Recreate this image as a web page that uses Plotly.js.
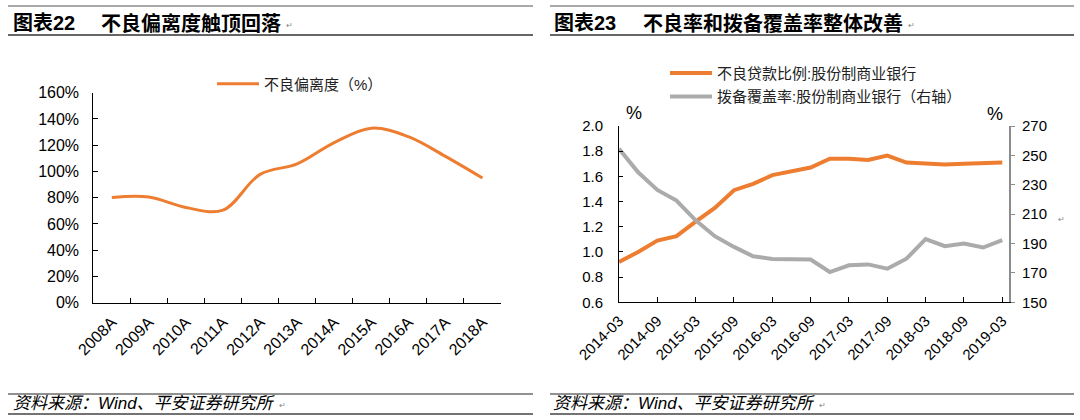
<!DOCTYPE html>
<html>
<head>
<meta charset="utf-8">
<script src="https://cdn.plot.ly/plotly-3.0.1.min.js"></script>
<style>
  html, body { margin: 0; padding: 0; background: #fff; }
  #chart { width: 1080px; height: 420px; }
</style>
</head>
<body>
<div id="chart"></div>
<script>
// ---- Data ----
const years = ['2008A','2009A','2010A','2011A','2012A','2013A','2014A','2015A','2016A','2017A','2018A'];
const deviation = [0.802, 0.805, 0.725, 0.705, 0.978, 1.058, 1.22, 1.33, 1.265, 1.115, 0.95];

const quarters = ['2014-03','2014-06','2014-09','2014-12','2015-03','2015-06','2015-09','2015-12',
                  '2016-03','2016-06','2016-09','2016-12','2017-03','2017-06','2017-09','2017-12',
                  '2018-03','2018-06','2018-09','2018-12','2019-03'];
const nplRatio = [0.92, 1.00, 1.09, 1.125, 1.24, 1.35, 1.49, 1.54, 1.61, 1.64, 1.67, 1.74, 1.74, 1.73,
                  1.765, 1.71, 1.70, 1.695, 1.70, 1.705, 1.71];
const coverage = [254.5, 238.5, 226.5, 219.3, 205.8, 195.0, 187.7, 181.3, 179.5, 179.2, 179.1, 170.6,
                  175.2, 175.8, 172.9, 179.7, 193.0, 188.2, 190.0, 187.3, 192.3];
const quarterTicks = quarters.filter((q, i) => i % 2 === 0);

const name1 = '不良偏离度（%）';
const name2 = '不良贷款比例:股份制商业银行';
const name3 = '拨备覆盖率:股份制商业银行（右轴）';
const title1a = '图表22', title1b = '不良偏离度触顶回落';
const title2a = '图表23', title2b = '不良率和拨备覆盖率整体改善';
const source = '资料来源：Wind、平安证券研究所';

// ---- helpers ----
const W = 1080, H = 420;
const px = x => x / W;
const py = y => 1 - y / H;
const FONT = 'Liberation Sans, Arial, "Noto Sans CJK SC", sans-serif';
const ORANGE = '#ED7D31', GRAY = '#ABABAB';

const traces = [
  { x: years, y: deviation, type: 'scatter', mode: 'lines', name: name1,
    line: { color: ORANGE, width: 3, shape: 'spline', smoothing: 1 },
    xaxis: 'x', yaxis: 'y', legend: 'legend' },
  { x: quarters, y: nplRatio, type: 'scatter', mode: 'lines', name: name2,
    line: { color: ORANGE, width: 4 }, xaxis: 'x2', yaxis: 'y2', legend: 'legend2' },
  { x: quarters, y: coverage, type: 'scatter', mode: 'lines', name: name3,
    line: { color: GRAY, width: 4 }, xaxis: 'x2', yaxis: 'y3', legend: 'legend3' }
];

const ann = [];
function text(t, x, y, size, opts) {
  ann.push(Object.assign({ text: t, x: px(x), y: py(y), xref: 'paper', yref: 'paper',
    xanchor: 'left', yanchor: 'middle', showarrow: false,
    font: { family: FONT, size: size, color: '#000' } }, opts || {}));
}
// titles
text('<b>' + title1a + '</b>', 11, 23, 20);
text('<b>' + title1b + '</b>', 99, 23, 20);
text('<b>' + title2a + '</b>', 552, 23, 20);
text('<b>' + title2b + '</b>', 641, 23, 20);
// return marks
const rm = { font: { family: FONT, size: 8, color: '#888' } };
text('↵', 284, 25, 8, rm);
text('↵', 906, 25, 8, rm);
text('↵', 277, 405, 8, rm);
text('↵', 817, 405, 8, rm);
text('↵', 1056, 219, 8, rm);
// sources
text('<i>' + source + '</i>', 11, 403, 17);
text('<i>' + source + '</i>', 551, 403, 17);
// percent unit labels
text('%', 634, 113, 18, { xanchor: 'center' });
text('%', 995, 114, 18, { xanchor: 'center' });

const shapes = [];
function hline(x0, x1, y, w, c) {
  shapes.push({ type: 'line', xref: 'paper', yref: 'paper', x0: px(x0), x1: px(x1), y0: py(y), y1: py(y),
    line: { color: c, width: w } });
}
hline(8, 533, 6, 1.2, '#555');
hline(8, 533, 35, 2, '#666');
hline(8, 533, 394, 1, '#222');
hline(8, 533, 414, 1.3, '#444');
hline(550, 1074, 6, 1.2, '#555');
hline(550, 1074, 35, 2, '#666');
hline(550, 1074, 394, 1, '#222');
hline(550, 1074, 414, 1.3, '#444');

const axBase = { showgrid: false, zeroline: false, showline: true, linecolor: '#000', linewidth: 1,
  ticks: 'inside', tickcolor: '#000', tickwidth: 1, fixedrange: true };

const layout = {
  width: W, height: H,
  margin: { l: 0, r: 0, t: 0, b: 0 },
  paper_bgcolor: '#fff', plot_bgcolor: 'rgba(0,0,0,0)',
  font: { family: FONT, color: '#000' },
  showlegend: true,
  xaxis: Object.assign({}, axBase, {
    domain: [px(93.3), px(501)], anchor: 'y', type: 'category',
    range: [-0.5, 10.5], tickson: 'boundaries', ticklen: 5, tickangle: -45,
    ticklabelstandoff: 3, tickfont: { size: 16, color: '#000' }
  }),
  yaxis: Object.assign({}, axBase, {
    domain: [py(302.7), py(92.7)], anchor: 'x', range: [0, 1.6], dtick: 0.2, tick0: 0,
    tickformat: '.0%', ticklen: 5, ticklabelstandoff: 10, tickfont: { size: 16, color: '#000' }
  }),
  xaxis2: Object.assign({}, axBase, {
    domain: [px(619), px(1009)], anchor: 'y2', type: 'category',
    range: [0, 20.35], tickmode: 'array', tickvals: quarterTicks, ticktext: quarterTicks,
    ticklen: 5, tickangle: -45, ticklabelstandoff: 3, tickfont: { size: 15, color: '#000' }
  }),
  yaxis2: Object.assign({}, axBase, {
    domain: [py(302.3), py(126)], anchor: 'x2', range: [0.6, 2.0], dtick: 0.2, tick0: 0.6,
    tickformat: '.1f', ticklen: 4, ticklabelstandoff: 12, tickfont: { size: 15, color: '#000' }
  }),
  yaxis3: Object.assign({}, axBase, {
    overlaying: 'y2', side: 'right', anchor: 'x2', range: [150, 270], dtick: 20, tick0: 150,
    linecolor: '#8C8C8C', linewidth: 2, ticks: 'outside', tickcolor: '#8C8C8C', ticklen: 4,
    ticklabelstandoff: 4, tickfont: { size: 15, color: '#000' }
  }),
  legend: { x: px(212), y: py(84), xanchor: 'left', yanchor: 'middle', itemwidth: 42,
    bgcolor: 'rgba(0,0,0,0)', font: { family: FONT, size: 15, color: '#222' } },
  legend2: { x: px(665), y: py(73.3), xanchor: 'left', yanchor: 'middle', itemwidth: 42,
    bgcolor: 'rgba(0,0,0,0)', font: { family: FONT, size: 15, color: '#222' } },
  legend3: { x: px(665), y: py(96.7), xanchor: 'left', yanchor: 'middle', itemwidth: 42,
    bgcolor: 'rgba(0,0,0,0)', font: { family: FONT, size: 15, color: '#222' } },
  annotations: ann,
  shapes: shapes
};

Plotly.newPlot('chart', traces, layout, { staticPlot: true, displayModeBar: false });
</script>
</body>
</html>
